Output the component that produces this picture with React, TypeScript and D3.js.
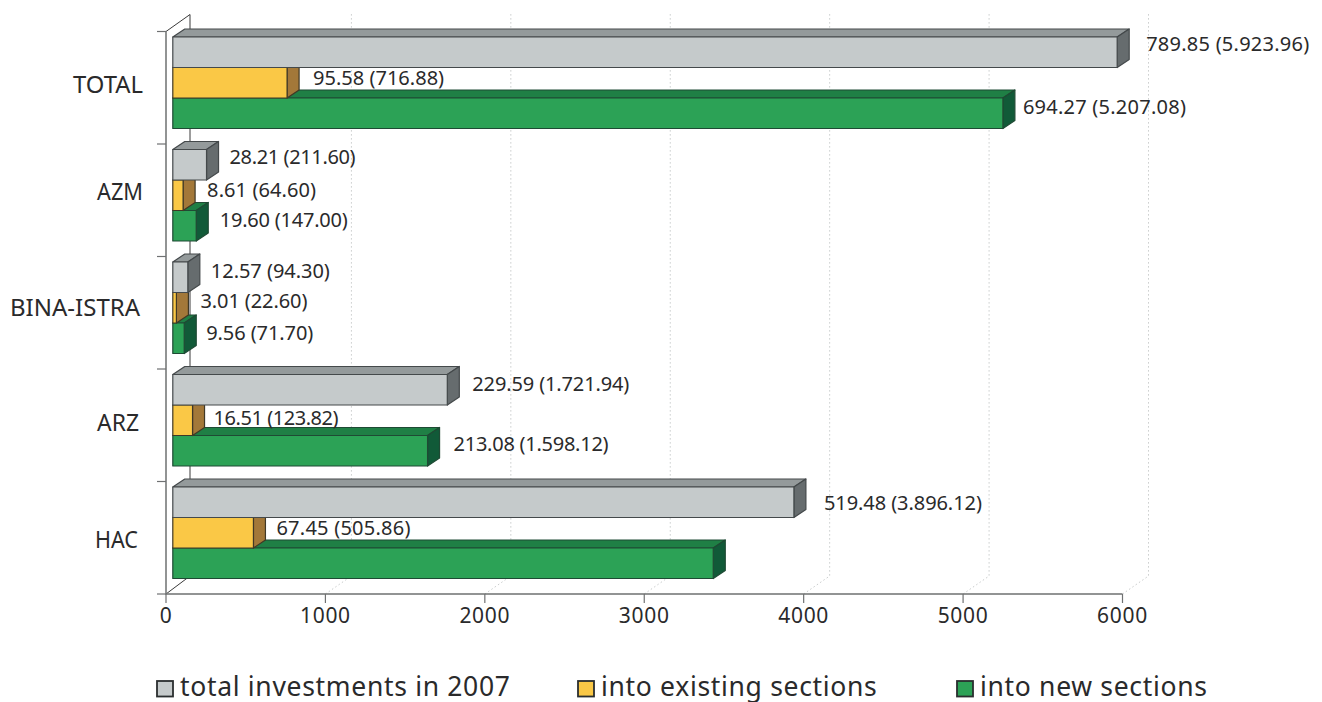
import React from "react";
import * as d3 from "d3";

const categories = ["TOTAL", "AZM", "BINA-ISTRA", "ARZ", "HAC"];
const seriesNames = ["total investments in 2007", "into existing sections", "into new sections"];
const totalKuna = [5923.96, 211.6, 94.3, 1721.94, 3896.12];
const existingKuna = [716.88, 64.6, 22.6, 123.82, 505.86];
const newKuna = [5207.08, 147.0, 71.7, 1598.12, 3390.26];
const totalLabels = ["789.85 (5.923.96)", "28.21 (211.60)", "12.57 (94.30)", "229.59 (1.721.94)", "519.48 (3.896.12)"];
const existingLabels = ["95.58 (716.88)", "8.61 (64.60)", "3.01 (22.60)", "16.51 (123.82)", "67.45 (505.86)"];
const newLabels = ["694.27 (5.207.08)", "19.60 (147.00)", "9.56 (71.70)", "213.08 (1.598.12)", ""];
const xTicks = [0, 1000, 2000, 3000, 4000, 5000, 6000];

const FONT = "'Noto Sans', sans-serif";
const INK = "#2a2a2b";
const W = 1322, H = 702;
const x = d3.scaleLinear().domain([0, 6000]).range([166, 1122.5]);
const yBand = d3.scaleBand<string>().domain(categories).range([31.5, 594]);
const FRONT = 6.8, DX = 12, DY = 8, BAR_H = 30.5, BAR_TOP = 5.5;
const WALL_X = 24, WALL_Y = 18;
const barScale = (v: number) => x(v) + FRONT;

const palettes = [
  { front: "#c5cacb", top: "#949a9b", side: "#666c6e", stroke: "#44494b" },
  { front: "#fac846", top: "#d9a93e", side: "#a37839", stroke: "#403826" },
  { front: "#2ca256", top: "#1f7f45", side: "#115a38", stroke: "#1f4a34" },
];
const valueSeries = [totalKuna, existingKuna, newKuna];
const labelSeries = [totalLabels, existingLabels, newLabels];
// label placement, relative to the bar end and the bar centre: [dx, dy] per series, per category
const labelNudge = [
  [[17, -8], [11, -8], [11, -6.5], [13, -5.5], [18, 0.5]],
  [[14, -4.5], [12, -5], [12, -6.5], [9, -2], [11, -4.5]],
  [[8, -6], [11.5, -5.5], [10, -5], [14, -6.5], [0, 0]],
];
// rendered text widths, so the narrower digits of the original are kept
const labelWidth = [
  [163, 126, 119, 157, 158],
  [131, 109, 107, 125, 134],
  [163, 128, 107, 155, 0],
];
const catLabelRight = [143, 143, 140, 139, 138];
const catLabelWidth = [70, 46, 130, 42, 43];
const catLabelY = [85, 192, 308, 423, 540];

function Bar({ cat, s, i }: { cat: string; s: number; i: number }) {
  const p = palettes[s];
  const y0 = yBand(cat)! + BAR_TOP + s * BAR_H;
  const y1 = y0 + BAR_H;
  const x0 = barScale(0);
  const x1 = barScale(valueSeries[s][i]);
  const top = `M${x0},${y0}L${x0 + DX},${y0 - DY}L${x1 + DX},${y0 - DY}L${x1},${y0}Z`;
  const side = `M${x1},${y0}L${x1 + DX},${y0 - DY}L${x1 + DX},${y1 - DY}L${x1},${y1}Z`;
  return (
    <g stroke={p.stroke} strokeWidth={1.2} strokeLinejoin="round">
      <path d={top} fill={p.top} />
      <path d={side} fill={p.side} />
      <rect x={x0} y={y0} width={x1 - x0} height={BAR_H} fill={p.front} />
    </g>
  );
}

export default function App() {
  const ticksY = [...categories.map((c) => yBand(c)!), 594];
  const y0 = 31.5, yB = 594;
  return (
    <svg width={W} height={H} style={{ position: "fixed", left: 0, top: 0, background: "#fff" }} fontFamily={FONT}>
      {xTicks.slice(1).map((t) => (
        <path
          key={t}
          d={`M${x(t)},${yB}L${x(t) + 26},${yB - WALL_Y}L${x(t) + 26},${y0 - WALL_Y}`}
          fill="none"
          stroke="#c9cccc"
          strokeWidth={1}
          strokeDasharray="1.5 2.5"
        />
      ))}
      <path d={`M${x(0)},${y0}L${x(0) + WALL_X},${y0 - WALL_Y + 1}L${x(0) + WALL_X},${yB - WALL_Y}L${x(0)},${yB}`} fill="none" stroke="#3a3a3a" strokeWidth={1} />
      <path d={`M${x(0)},${y0}V${yB}H${x(6000)}`} fill="none" stroke="#6f7172" strokeWidth={1.5} />
      {ticksY.map((t) => (
        <line key={t} x1={157} x2={x(0)} y1={t} y2={t} stroke="#6f7172" strokeWidth={1.2} />
      ))}
      {xTicks.map((t) => (
        <g key={t}>
          <line x1={x(t)} x2={x(t)} y1={yB} y2={yB + 9} stroke="#6f7172" strokeWidth={1.2} />
          <text x={x(t)} y={623} textAnchor="middle" fontSize={21} letterSpacing={0.7} fill={INK}>{t}</text>
        </g>
      ))}
      {categories.map((c, i) => (
        <g key={c}>
          {[2, 1, 0].map((s) => <Bar key={s} cat={c} s={s} i={i} />)}
        </g>
      ))}
      {categories.map((c, i) => (
        <text key={c} x={catLabelRight[i]} y={catLabelY[i]} dy="0.36em" textAnchor="end" fontSize={23} textLength={catLabelWidth[i]} lengthAdjust="spacingAndGlyphs" fill={INK}>{c}</text>
      ))}
      {categories.map((c, i) =>
        [0, 1, 2].map((s) => {
          const txt = labelSeries[s][i];
          if (!txt) return null;
          const [ndx, ndy] = labelNudge[s][i];
          const xe = barScale(valueSeries[s][i]) + DX + ndx;
          const yc = yBand(c)! + BAR_TOP + s * BAR_H + BAR_H / 2 + ndy;
          return (
            <text key={s} x={xe} y={yc} dy="0.36em" fontSize={20} textLength={labelWidth[s][i]} lengthAdjust="spacing" fill={INK}>{txt}</text>
          );
        })
      )}
      {seriesNames.map((n, s) => {
        const lx = [157, 578, 957][s];
        return (
          <g key={n}>
            <rect x={lx} y={681} width={16} height={15.5} fill={palettes[s].front} stroke="#2a2e2f" strokeWidth={1.8} />
            <text x={lx + 23} y={695.5} fontSize={26.5} letterSpacing={0.68} fill={INK}>{n}</text>
          </g>
        );
      })}
    </svg>
  );
}
